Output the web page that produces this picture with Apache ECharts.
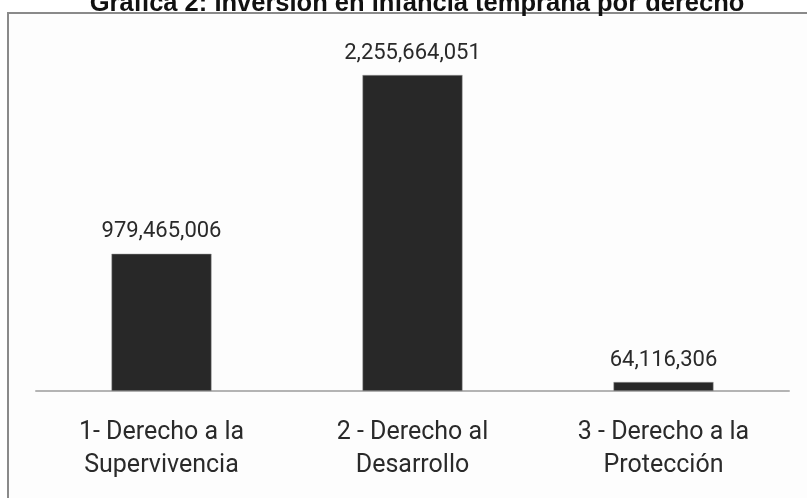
<!DOCTYPE html>
<html>
<head>
<meta charset="utf-8">
<script src="https://cdn.jsdelivr.net/npm/echarts@6/dist/echarts.min.js"></script>
<style>
  html, body { margin: 0; padding: 0; background: #fff; }
  #chart { width: 807px; height: 498px; }
</style>
</head>
<body>
<div id="chart"></div>
<script>
// data
const categories = [
  '1- Derecho a la\nSupervivencia',
  '2 - Derecho al\nDesarrollo',
  '3 - Derecho a la\nProtección'
];
const inversion = [979465006, 2255664051, 64116306];
const titleText = 'Gráfica 2: Inversión en infancia temprana por derecho';

const chart = echarts.init(document.getElementById('chart'));

chart.setOption({
  backgroundColor: '#ffffff',
  animation: false,
  graphic: [
    {
      type: 'rect',
      shape: { x: 8, y: 13, width: 820, height: 500 },
      style: { fill: '#fdfdfd', stroke: '#8a8a8a', lineWidth: 2 },
      z: -10,
      silent: true
    }
  ],
  title: {
    text: titleText,
    left: 412,
    textAlign: 'center',
    top: -14,
    textStyle: {
      fontFamily: 'Liberation Sans',
      fontWeight: 'bold',
      fontSize: 25.5,
      color: '#111'
    }
  },
  grid: { left: 36, right: 18, top: 75, bottom: 107, containLabel: false },
  xAxis: {
    type: 'category',
    data: categories,
    axisLine: { lineStyle: { color: '#b4b4b4', width: 2 } },
    axisTick: { show: false },
    axisLabel: {
      margin: 25,
      fontFamily: 'Roboto',
      fontSize: 25,
      lineHeight: 33,
      color: '#2a2a2a'
    }
  },
  yAxis: {
    type: 'value',
    min: 0,
    max: 'dataMax',
    show: false,
    splitLine: { show: false }
  },
  series: [
    {
      type: 'bar',
      data: inversion,
      barWidth: 100,
      itemStyle: { color: '#282828', borderColor: '#9a9a9a', borderWidth: 0.5 },
      label: {
        show: true,
        position: 'top',
        distance: 11,
        fontFamily: 'Roboto',
        fontSize: 22,
        color: '#2a2a2a',
        formatter: p => p.value.toLocaleString('en-US')
      }
    }
  ]
});
</script>
</body>
</html>
